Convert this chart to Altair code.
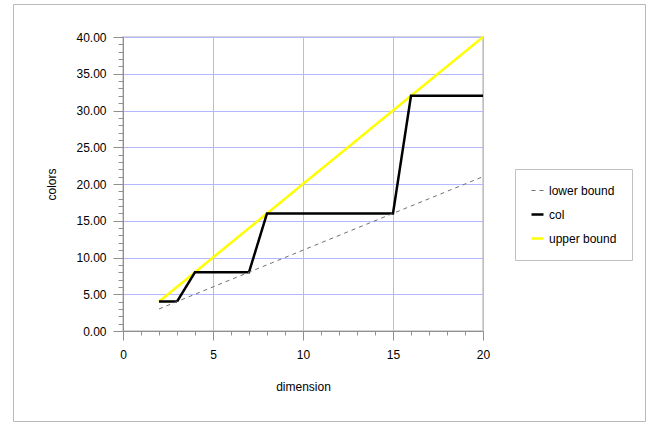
import altair as alt
import pandas as pd

# Values per integer dimension
dimension = [2, 3, 4, 5, 6, 7, 8, 9, 10, 11, 12, 13, 14, 15, 16, 17, 18, 19, 20]
col = [4, 4, 8, 8, 8, 8, 16, 16, 16, 16, 16, 16, 16, 16, 32, 32, 32, 32, 32]
lower_bound = [3, 4, 5, 6, 7, 8, 9, 10, 11, 12, 13, 14, 15, 16, 17, 18, 19, 20, 21]
upper_bound = [4, 6, 8, 10, 12, 14, 16, 18, 20, 22, 24, 26, 28, 30, 32, 34, 36, 38, 40]

series_names = ["lower bound", "col", "upper bound"]
series_colors = ["#707070", "#000000", "#ffff00"]
series_dashes = [[4, 4], [1, 0], [1, 0]]
series_widths = [1, 2.5, 2.5]

x_ticks = list(range(0, 21))
y_ticks = list(range(0, 41))

rows = []
for name, values in [("upper bound", upper_bound), ("col", col), ("lower bound", lower_bound)]:
    for d, v in zip(dimension, values):
        rows.append({"dimension": d, "colors": v, "series": name})
df = pd.DataFrame(rows)

FONT = "Liberation Sans"
major = "datum.value % 5 === 0"
inner = "datum.value % 5 === 0 && datum.value > 0"

x_axis = alt.Axis(
    values=x_ticks,
    labelExpr=f"{major} ? format(datum.value, 'd') : ''",
    labelOverlap=False,
    labelFlush=False,
    labelPadding=9,
    tickSize={"condition": {"test": major, "value": 9}, "value": 4},
    tickColor="#909090",
    domainColor="#909090",
    grid=True,
    gridColor="#b4b8ff",
    gridOpacity={"condition": {"test": inner, "value": 1}, "value": 0},
    title="dimension",
    titleX=180,
    titleY=55,
    titleBaseline="middle",
    titleFontWeight="normal",
)

y_axis = alt.Axis(
    values=y_ticks,
    labelExpr=f"{major} ? format(datum.value, '.2f') : ''",
    labelOverlap=False,
    labelFlush=False,
    labelPadding=7,
    tickSize={"condition": {"test": major, "value": 10}, "value": 5},
    tickColor="#909090",
    domainColor="#909090",
    grid=True,
    gridColor="#b4b8ff",
    gridOpacity={"condition": {"test": inner, "value": 1}, "value": 0},
    title="colors",
    titleX=-72,
    titleY=147,
    titleBaseline="middle",
    titleAlign="center",
    titleFontWeight="normal",
)

lines = alt.Chart(df).mark_line().encode(
    x=alt.X("dimension:Q", scale=alt.Scale(domain=[0, 20], nice=False, zero=False), axis=x_axis),
    y=alt.Y("colors:Q", scale=alt.Scale(domain=[0, 40], nice=False), axis=y_axis),
    color=alt.Color("series:N", scale=alt.Scale(domain=series_names, range=series_colors),
                    legend=alt.Legend(title=None)),
    strokeDash=alt.StrokeDash("series:N", scale=alt.Scale(domain=series_names, range=series_dashes),
                              legend=alt.Legend(title=None)),
    strokeWidth=alt.StrokeWidth("series:N",
                                scale=alt.Scale(type="ordinal", domain=series_names, range=series_widths),
                                legend=alt.Legend(title=None)),
)

# outer frame around the whole figure
frame = alt.Chart(pd.DataFrame({"f": [0]})).mark_rect(
    fill="transparent", stroke="#b8b8b8", strokeWidth=1
).encode(
    x=alt.value(-109.5), x2=alt.value(522.5),
    y=alt.value(-32.5), y2=alt.value(384.5),
)

chart = alt.layer(frame, lines).properties(
    width=360,
    height=294,
    autosize=alt.AutoSizeParams(type="none"),
    padding={"left": 123, "top": 37, "right": 173, "bottom": 93},
    background="white",
).configure_view(
    stroke="#d4d4d4", strokeWidth=2,
).configure_axis(
    labelFont=FONT, labelFontSize=12, labelColor="#000000",
    titleFont=FONT, titleFontSize=12, titleColor="#000000",
).configure_legend(
    orient="none", legendX=392, legendY=132,
    padding=15, rowPadding=10,
    strokeColor="#c0c0c0", fillColor="white",
    labelFont=FONT, labelFontSize=12, labelColor="#000000",
    symbolType="stroke", symbolSize=144,
)

chart.save("out.html", embed_options={"renderer": "svg", "actions": False})
